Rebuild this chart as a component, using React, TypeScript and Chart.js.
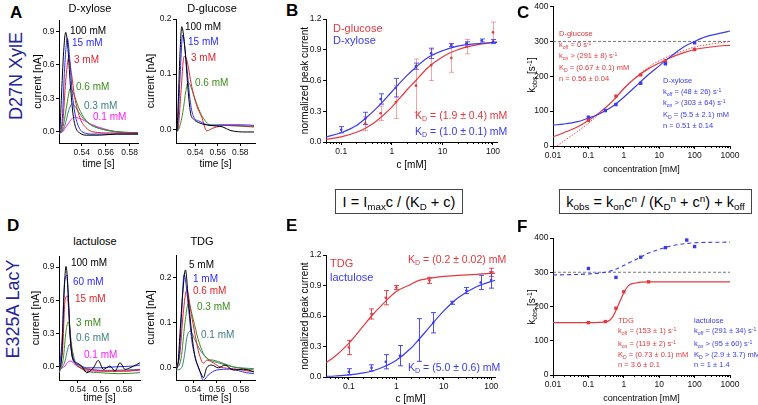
import React, { useEffect, useRef } from "react";
import { Chart, registerables } from "chart.js";
Chart.register(...registerables);

const FONT = "'Liberation Sans', Arial, Helvetica, sans-serif";
Chart.defaults.font.family = FONT;

const BLACK = "#000000";
const BLUE = "#2b2bff";
const RED = "#e3242b";
const GREEN = "#3d8c1c";
const TEAL = "#3f7e80";
const MAGENTA = "#ff1cff";
const FIT_RED = "#e3383d";
const FIT_BLUE = "#3a3af2";
const NAVY = "#24249a";

type Pair = [number, number];

// ---------- A: D27N XylE, D-xylose current traces (time [s], current [nA])
const xyl100: Pair[] = [[0.521, -0.01], [0.5218, 0.02], [0.5229, 0.28], [0.5249, 0.72], [0.5266, 0.89], [0.5282, 0.78], [0.5305, 0.42], [0.5327, 0.16], [0.5349, 0.04], [0.5383, -0.01], [0.5438, -0.03], [0.555, -0.03], [0.5689, -0.02], [0.587, -0.02]];
const xyl15: Pair[] = [[0.521, -0.01], [0.5221, 0.0], [0.5238, 0.12], [0.5257, 0.57], [0.528, 0.835], [0.5299, 0.66], [0.5321, 0.34], [0.5344, 0.16], [0.5372, 0.05], [0.5411, -0.005], [0.5494, -0.02], [0.587, -0.02]];
const xyl3: Pair[] = [[0.521, -0.01], [0.5225, 0.0], [0.5243, 0.1], [0.5266, 0.45], [0.5291, 0.66], [0.5313, 0.53], [0.5341, 0.31], [0.5383, 0.13], [0.5433, 0.04], [0.5494, 0.0], [0.5633, -0.01], [0.587, -0.01]];
const xyl06: Pair[] = [[0.521, -0.01], [0.5232, 0.0], [0.5249, 0.07], [0.5277, 0.25], [0.5305, 0.39], [0.5333, 0.34], [0.5369, 0.23], [0.5411, 0.14], [0.5466, 0.07], [0.555, 0.03], [0.5689, 0.0], [0.587, -0.01]];
const xyl03: Pair[] = [[0.521, -0.01], [0.5235, 0.0], [0.5257, 0.05], [0.5291, 0.19], [0.5319, 0.25], [0.5349, 0.22], [0.5397, 0.14], [0.5452, 0.08], [0.5522, 0.04], [0.5633, 0.01], [0.587, -0.01]];
const xyl01: Pair[] = [[0.521, -0.01], [0.524, 0.0], [0.5266, 0.04], [0.5305, 0.1], [0.5333, 0.13], [0.5383, 0.12], [0.5438, 0.09], [0.5494, 0.06], [0.5578, 0.03], [0.5689, 0.0], [0.587, -0.01]];

// ---------- A: D-glucose traces
const glc100: Pair[] = [[0.523, -0.005], [0.5239, 0.0], [0.5252, 0.06], [0.5262, 0.12], [0.5281, 0.186], [0.531, 0.144], [0.5339, 0.066], [0.536, 0.028], [0.5383, 0.019], [0.5443, 0.011], [0.5531, 0.007], [0.5646, 0.004], [0.5708, -0.002], [0.5856, -0.005], [0.5921, -0.005]];
const glc15: Pair[] = [[0.523, -0.005], [0.5243, 0.0], [0.5265, 0.09], [0.5289, 0.171], [0.5325, 0.114], [0.5354, 0.054], [0.5381, 0.025], [0.5443, 0.014], [0.5531, 0.007], [0.562, 0.008], [0.5797, 0.008], [0.5921, 0.007]];
const glc3: Pair[] = [[0.523, -0.005], [0.5248, 0.0], [0.5275, 0.07], [0.5301, 0.132], [0.5325, 0.126], [0.5369, 0.078], [0.5413, 0.043], [0.5458, 0.022], [0.5502, -0.003], [0.5558, 0.002], [0.5679, 0.007], [0.5921, 0.005]];
const glc06: Pair[] = [[0.523, -0.005], [0.5255, 0.0], [0.529, 0.03], [0.5318, 0.07], [0.5336, 0.085], [0.5354, 0.081], [0.5398, 0.055], [0.5443, 0.031], [0.5487, 0.016], [0.5531, 0.008], [0.5646, 0.007], [0.5921, 0.004]];

// ---------- D: E325A LacY, lactulose traces
const lac100: Pair[] = [[0.5238, -0.024], [0.5258, 0.08], [0.5279, 0.65], [0.5296, 0.906], [0.5313, 0.71], [0.5331, 0.29], [0.5354, 0.08], [0.5389, 0.036], [0.5432, 0.006], [0.5476, -0.054], [0.5534, -0.01], [0.5577, 0.057], [0.5621, -0.024], [0.5679, 0.006], [0.5722, -0.04], [0.5766, 0.036], [0.581, -0.024], [0.5853, -0.01], [0.5911, 0.02], [0.594, 0.036]];
const lac60: Pair[] = [[0.5238, -0.04], [0.5264, 0.29], [0.5281, 0.74], [0.5302, 0.825], [0.532, 0.53], [0.5337, 0.2], [0.536, 0.05], [0.5403, 0.02], [0.5476, -0.01], [0.5592, -0.01], [0.5737, 0.0], [0.5881, 0.006], [0.594, 0.015]];
const lac15: Pair[] = [[0.5238, -0.04], [0.5267, 0.17], [0.5287, 0.59], [0.5307, 0.64], [0.5325, 0.41], [0.5345, 0.14], [0.5374, 0.036], [0.5432, -0.01], [0.5505, -0.024], [0.565, -0.04], [0.5824, -0.04], [0.594, -0.024]];
const lac3: Pair[] = [[0.5238, -0.054], [0.5273, 0.08], [0.5296, 0.32], [0.5316, 0.405], [0.5337, 0.26], [0.536, 0.08], [0.5403, 0.006], [0.5476, -0.04], [0.5592, -0.054], [0.5766, -0.063], [0.594, -0.054]];
const lac06: Pair[] = [[0.5238, -0.04], [0.5287, 0.05], [0.531, 0.156], [0.5325, 0.2], [0.5348, 0.156], [0.5374, 0.05], [0.5418, 0.006], [0.5505, -0.024], [0.5679, -0.033], [0.594, -0.024]];
const lac01: Pair[] = [[0.5238, -0.024], [0.5287, 0.006], [0.5316, 0.045], [0.5339, 0.05], [0.5374, 0.02], [0.5418, -0.01], [0.5534, -0.04], [0.5707, -0.04], [0.594, -0.033]];

// ---------- D: TDG traces
const tdg5: Pair[] = [[0.5258, -0.005], [0.5275, 0.01], [0.5291, 0.076], [0.5314, 0.165], [0.5337, 0.217], [0.5361, 0.151], [0.5389, 0.077], [0.5416, 0.025], [0.5444, 0.002], [0.5472, -0.016], [0.5486, -0.022], [0.5514, 0.0], [0.5556, 0.006], [0.5611, 0.0], [0.5667, 0.006], [0.5736, -0.005], [0.582, -0.003], [0.5908, -0.009]];
const tdg1: Pair[] = [[0.5258, 0.0], [0.5283, 0.02], [0.5305, 0.12], [0.5325, 0.207], [0.5361, 0.137], [0.5389, 0.062], [0.5425, 0.017], [0.5458, -0.009], [0.5486, -0.028], [0.5527, -0.016], [0.5597, -0.005], [0.5708, -0.003], [0.5848, -0.011], [0.5908, -0.013]];
const tdg06: Pair[] = [[0.5258, 0.0], [0.529, 0.03], [0.5318, 0.12], [0.5347, 0.172], [0.5389, 0.114], [0.5431, 0.054], [0.5458, 0.025], [0.5486, 0.01], [0.5514, 0.017], [0.5556, 0.013], [0.5625, 0.002], [0.5736, -0.002], [0.5908, -0.009]];
const tdg03: Pair[] = [[0.5258, -0.003], [0.53, 0.02], [0.5333, 0.1], [0.5361, 0.143], [0.5402, 0.107], [0.5444, 0.062], [0.5486, 0.032], [0.5527, 0.019], [0.5569, 0.017], [0.5652, 0.01], [0.5736, 0.002], [0.5908, -0.005]];
const tdg01: Pair[] = [[0.5258, -0.005], [0.5305, 0.0], [0.533, 0.03], [0.5347, 0.065], [0.5375, 0.081], [0.5416, 0.062], [0.5458, 0.04], [0.55, 0.025], [0.5541, 0.017], [0.5625, 0.01], [0.5736, 0.002], [0.5908, -0.002]];

// ---------- B: normalized peak current (D27N XylE)
const xylB_c = [0.1, 0.3, 0.6, 1.2, 3, 6, 15, 30, 60, 100];
const xylB_v = [0.12, 0.23, 0.42, 0.53, 0.74, 0.865, 0.946, 0.963, 0.99, 0.98];
const xylB_e = [0.03, 0.06, 0.05, 0.09, 0.03, 0.05, 0.015, 0.015, 0.015, 0.02];
const glcB_c = [0.3, 0.6, 1.2, 3, 6, 15, 30, 100];
const glcB_v = [0.18, 0.28, 0.39, 0.55, 0.75, 0.82, 0.93, 1.07];
const glcB_e = [0.07, 0.07, 0.16, 0.26, 0.15, 0.14, 0.07, 0.1];
const fitB_c = [0.05, 0.1, 0.2, 0.3, 0.5, 1, 2, 3, 5, 10, 20, 50, 100, 120];
const xylFitB = [0.05, 0.09, 0.16, 0.23, 0.33, 0.49, 0.65, 0.73, 0.82, 0.89, 0.935, 0.96, 0.97, 0.972];
const glcFitB = [0.026, 0.05, 0.095, 0.135, 0.205, 0.34, 0.51, 0.6, 0.72, 0.83, 0.9, 0.95, 0.97, 0.975];

// ---------- C: k_obs (D27N XylE)
const glcC_c = [0.1, 0.6, 3, 15, 100];
const glcC_v = [74, 143, 204, 244, 277];
const xylC_c = [0.1, 0.3, 0.6, 3, 15, 100];
const xylC_v = [83, 102, 119, 180, 236, 296];
const fitC_c = [0.01, 0.02, 0.05, 0.1, 0.2, 0.5, 1, 2, 5, 10, 20, 50, 100, 200, 500, 1000];
const glcFitC = [26, 38, 55, 73, 95, 130, 165, 193, 222, 238, 253, 268, 277, 282, 287, 289];
const xylFitC = [60, 63, 70, 80, 92, 115, 140, 168, 205, 230, 255, 285, 300, 313, 323, 330];
const glcFit0C_c = [0.013, 0.02, 0.05, 0.1, 0.2, 0.5, 1, 2, 5, 10, 20, 50, 100, 200, 500, 1000];
const glcFit0C = [0, 14, 42, 65, 92, 130, 163, 194, 226, 245, 259, 274, 284, 290, 296, 300];
const refLine_c = [0.01, 1000];
const refLine_v = [300, 300];

// ---------- E: normalized peak current (E325A LacY)
const tdgE_c = [0.1, 0.3, 0.6, 1, 5, 100];
const tdgE_v = [0.29, 0.62, 0.78, 0.88, 0.95, 1.03];
const tdgE_e = [0.07, 0.05, 0.07, 0.02, 0.03, 0.04];
const lacE_c = [0.1, 0.3, 0.6, 1.2, 3, 6, 15, 30, 60, 100];
const lacE_v = [0.052, 0.09, 0.15, 0.21, 0.364, 0.534, 0.73, 0.85, 0.93, 0.954];
const lacE_e = [0.03, 0.03, 0.07, 0.1, 0.21, 0.1, 0.015, 0.03, 0.07, 0.08];
const fitE_c = [0.033, 0.05, 0.1, 0.2, 0.3, 0.5, 1, 2, 3, 5, 10, 20, 50, 100, 120];
const tdgFitE = [0.14, 0.2, 0.33, 0.5, 0.6, 0.71, 0.84, 0.91, 0.95, 0.97, 0.99, 1.0, 1.01, 1.02, 1.02];
const lacFitE = [0.006, 0.01, 0.02, 0.04, 0.057, 0.093, 0.165, 0.28, 0.37, 0.49, 0.65, 0.78, 0.89, 0.94, 0.95];

// ---------- F: k_obs (E325A LacY)
const tdgF_c = [0.1, 0.3, 0.6, 1, 5];
const tdgF_v = [153, 156, 195, 243, 272];
const lacF_c = [0.1, 0.6, 3, 15, 60, 100];
const lacF_v = [311, 285, 344, 372, 394, 375];
const tdgFitF_c = [0.01, 0.1, 0.2, 0.3, 0.4, 0.5, 0.6, 0.7, 0.8, 1, 1.2, 1.5, 2, 3, 5, 1000];
const tdgFitF = [153, 153, 153.5, 155, 160, 172, 188, 204, 218, 240, 254, 264, 268, 271, 272, 272];
const lacFitF_c = [0.01, 0.1, 0.3, 0.5, 1, 2, 3, 5, 10, 15, 20, 50, 100, 1000];
const lacFitF = [292, 295, 300, 306, 320, 335, 344, 356, 367, 372, 376, 383, 386, 388];

// ---------- tick labels
const timeTicks = [0.54, 0.56, 0.58];
const bigCurrentTicks = [0, 0.3, 0.6, 0.9];
const smallCurrentTicks = [0, 0.1, 0.2];
const normTicks = [0, 0.3, 0.6, 0.9, 1.2];
const concTicksBE = [0.1, 1, 10, 100];
const concTicksCF = [0.01, 0.1, 1, 10, 100, 1000];
const kobsTicks = [0, 100, 200, 300, 400];

function logMinors(lo: number, hi: number): number[] {
  const out: number[] = [];
  for (let e = -3; e <= 3; e++) {
    for (let m = 2; m <= 9; m++) {
      const v = m * Math.pow(10, e);
      if (v >= lo && v <= hi) out.push(v);
    }
  }
  return out;
}

const zip = (xs: number[], ys: number[]): Pair[] => xs.map((x, i) => [x, ys[i]]);

const line = (pts: Pair[], color: string, width = 1, dash: number[] = []) => ({
  data: pts.map(([x, y]) => ({ x, y })),
  showLine: true,
  borderColor: color,
  backgroundColor: color,
  borderWidth: width,
  borderDash: dash,
  pointRadius: 0,
  fill: false,
  cubicInterpolationMode: "monotone",
});

const pts = (p: Pair[], color: string, style: string, radius: number, errs?: number[], errColor?: string) => ({
  data: p.map(([x, y]) => ({ x, y })),
  showLine: false,
  pointStyle: style,
  pointRadius: radius,
  pointBackgroundColor: color,
  pointBorderColor: color,
  pointBorderWidth: 0,
  errorBars: errs,
  errorColor: errColor || color,
});

interface Axis {
  type: "linear" | "logarithmic";
  min: number;
  max: number;
  ticks: number[];
  fmt: (v: number) => string;
  minors?: number[];
  title?: string;
  titleSize?: number;
}
interface PanelSpec {
  key: string;
  L: number; T: number; R: number; B: number;
  yw: number; xh: number; pt: number; pr: number;
  x: Axis; y: Axis;
  datasets: any[];
}

const fmt1 = (v: number) => v.toFixed(1);
const fmt2 = (v: number) => v.toFixed(2);
const fmtN = (v: number) => String(v);

function tracePanel(key: string, L: number, T: number, R: number, B: number, yw: number, xh: number,
  xmin: number, xmax: number, ymin: number, ymax: number, yticks: number[], series: [Pair[], string][]): PanelSpec {
  return {
    key, L, T, R, B, yw, xh, pt: 8, pr: 6,
    x: { type: "linear", min: xmin, max: xmax, ticks: timeTicks, fmt: fmt2, title: "time [s]", titleSize: 10 },
    y: { type: "linear", min: ymin, max: ymax, ticks: yticks, fmt: fmt1, title: "current [nA]", titleSize: 10.5 },
    datasets: series.map(([p, c]) => line(p, c, 1)),
  };
}

const PANELS: PanelSpec[] = [
  tracePanel("A1", 59, 20, 138, 143, 27, 27, 0.521, 0.587, -0.1, 1.0, bigCurrentTicks,
    [[xyl100, BLACK], [xyl15, BLUE], [xyl3, RED], [xyl06, GREEN], [xyl03, TEAL], [xyl01, MAGENTA]]),
  tracePanel("A2", 176, 19, 255, 143, 31, 27, 0.523, 0.593, -0.025, 0.2, smallCurrentTicks,
    [[glc100, BLACK], [glc15, BLUE], [glc3, RED], [glc06, GREEN]]),
  tracePanel("D1", 59, 256, 140, 380, 29, 24, 0.5235, 0.594, -0.12, 1.0, bigCurrentTicks,
    [[lac100, BLACK], [lac60, BLUE], [lac15, RED], [lac3, GREEN], [lac06, TEAL], [lac01, MAGENTA]]),
  tracePanel("D2", 176, 255, 255, 380, 31, 24, 0.5258, 0.5917, -0.027, 0.25, smallCurrentTicks,
    [[tdg5, BLACK], [tdg1, BLUE], [tdg06, RED], [tdg03, GREEN], [tdg01, TEAL]]),
  {
    key: "B", L: 326, T: 19, R: 497, B: 142, yw: 27, xh: 29, pt: 8, pr: 12,
    x: { type: "logarithmic", min: 0.05, max: 120, ticks: concTicksBE, fmt: fmtN, minors: logMinors(0.05, 120), title: "c [mM]", titleSize: 10 },
    y: { type: "linear", min: 0, max: 1.2, ticks: normTicks, fmt: fmt1, title: "normalized peak current", titleSize: 10 },
    datasets: [
      pts(zip(xylB_c, xylB_v), FIT_BLUE, "circle", 1.3, xylB_e, "rgba(58,58,242,0.85)"),
      pts(zip(glcB_c, glcB_v), FIT_RED, "circle", 1.3, glcB_e, "rgba(227,56,61,0.45)"),
      line(zip(fitB_c, xylFitB), FIT_BLUE, 1.2),
      line(zip(fitB_c, glcFitB), FIT_RED, 1.2),
    ],
  },
  {
    key: "C", L: 553, T: 5, R: 730, B: 146, yw: 26, xh: 29, pt: 5, pr: 14,
    x: { type: "logarithmic", min: 0.01, max: 1000, ticks: concTicksCF, fmt: fmtN, minors: logMinors(0.01, 1000), title: "concentration [mM]", titleSize: 9 },
    y: { type: "linear", min: 0, max: 400, ticks: kobsTicks, fmt: fmtN },
    datasets: [
      pts(zip(xylC_c, xylC_v), FIT_BLUE, "rect", 2.4),
      pts(zip(glcC_c, glcC_v), FIT_RED, "rect", 2.4),
      line(zip(xylFitC_c_guard(), xylFitC), FIT_BLUE, 1.2),
      line(zip(fitC_c, glcFitC), FIT_RED, 1.2),
      line(zip(glcFit0C_c, glcFit0C), FIT_RED, 0.9, [1.5, 1.5]),
      line(zip(refLine_c, refLine_v), "#555555", 0.8, [3, 2]),
    ],
  },
  {
    key: "E", L: 326, T: 255, R: 495, B: 377, yw: 27, xh: 28, pt: 8, pr: 12,
    x: { type: "logarithmic", min: 0.033, max: 120, ticks: concTicksBE, fmt: fmtN, minors: logMinors(0.033, 120), title: "c [mM]", titleSize: 10 },
    y: { type: "linear", min: 0, max: 1.2, ticks: normTicks, fmt: fmt1, title: "normalized peak current", titleSize: 10 },
    datasets: [
      pts(zip(tdgE_c, tdgE_v), FIT_RED, "circle", 1.3, tdgE_e, "rgba(227,56,61,0.9)"),
      pts(zip(lacE_c, lacE_v), FIT_BLUE, "circle", 1.3, lacE_e, "rgba(58,58,242,0.9)"),
      line(zip(fitE_c, tdgFitE), FIT_RED, 1.2),
      line(zip(fitE_c, lacFitE), FIT_BLUE, 1.2),
    ],
  },
  {
    key: "F", L: 553, T: 238, R: 730, B: 375, yw: 26, xh: 29, pt: 8, pr: 14,
    x: { type: "logarithmic", min: 0.01, max: 1000, ticks: concTicksCF, fmt: fmtN, minors: logMinors(0.01, 1000), title: "concentration [mM]", titleSize: 9 },
    y: { type: "linear", min: 0, max: 400, ticks: kobsTicks, fmt: fmtN },
    datasets: [
      pts(zip(lacF_c, lacF_v), FIT_BLUE, "rect", 2.4),
      pts(zip(tdgF_c, tdgF_v), FIT_RED, "rect", 2.4),
      line(zip(lacFitF_c, lacFitF), FIT_BLUE, 1.1, [4, 3]),
      line(zip(tdgFitF_c, tdgFitF), FIT_RED, 1.2),
      line(zip(refLine_c, refLine_v), "#555555", 0.8, [3, 2]),
    ],
  },
];

function xylFitC_c_guard() {
  return fitC_c;
}

function geom(p: PanelSpec) {
  return {
    left: p.L - p.yw,
    top: p.T - p.pt,
    w: p.R - p.L + p.yw + p.pr,
    h: p.B - p.T + p.pt + p.xh,
  };
}

function scaleOptions(a: Axis, isX: boolean, size: number) {
  return {
    type: a.type,
    min: a.min,
    max: a.max,
    position: isX ? "bottom" : "left",
    afterBuildTicks: (s: any) => {
      s.ticks = a.ticks.map((v) => ({ value: v }));
    },
    afterFit: (s: any) => {
      if (isX) s.height = size;
      else s.width = size;
    },
    ticks: {
      autoSkip: false,
      maxRotation: 0,
      minRotation: 0,
      padding: 1.5,
      color: "#111",
      font: { family: FONT, size: 8.5 },
      callback: (v: any) => a.fmt(Number(v)),
    },
    grid: { display: true, drawOnChartArea: false, drawTicks: true, tickLength: 3, color: "#000", tickColor: "#000", lineWidth: 1 },
    border: { display: true, color: "#000", width: 1 },
    title: a.title
      ? { display: true, text: a.title, color: "#000", font: { family: FONT, size: a.titleSize ?? 10 }, padding: 0 }
      : { display: false },
  };
}

function makeExtras(xMinor?: number[], yMinor?: number[]) {
  return {
    id: "extras",
    beforeDatasetsDraw(chart: any) {
      const ctx = chart.ctx;
      const ys = chart.scales.y;
      chart.data.datasets.forEach((ds: any, i: number) => {
        if (!ds.errorBars) return;
        const meta = chart.getDatasetMeta(i);
        ctx.save();
        ctx.strokeStyle = ds.errorColor;
        ctx.lineWidth = 1;
        ctx.beginPath();
        meta.data.forEach((el: any, j: number) => {
          const d = ds.data[j];
          const e = ds.errorBars[j];
          const x = Math.round(el.x) + 0.5;
          const y1 = ys.getPixelForValue(d.y + e);
          const y2 = ys.getPixelForValue(d.y - e);
          ctx.moveTo(x, y1);
          ctx.lineTo(x, y2);
          ctx.moveTo(x - 2.5, y1);
          ctx.lineTo(x + 2.5, y1);
          ctx.moveTo(x - 2.5, y2);
          ctx.lineTo(x + 2.5, y2);
        });
        ctx.stroke();
        ctx.restore();
      });
    },
    afterDraw(chart: any) {
      const { ctx, chartArea, scales } = chart;
      ctx.save();
      ctx.strokeStyle = "#000";
      ctx.lineWidth = 1;
      ctx.beginPath();
      (xMinor || []).forEach((v) => {
        if (v < scales.x.min || v > scales.x.max) return;
        const px = Math.round(scales.x.getPixelForValue(v)) + 0.5;
        ctx.moveTo(px, chartArea.bottom);
        ctx.lineTo(px, chartArea.bottom + 2);
      });
      (yMinor || []).forEach((v) => {
        if (v < scales.y.min || v > scales.y.max) return;
        const py = Math.round(scales.y.getPixelForValue(v)) + 0.5;
        ctx.moveTo(chartArea.left, py);
        ctx.lineTo(chartArea.left - 2, py);
      });
      ctx.stroke();
      ctx.restore();
    },
  };
}

function buildConfig(p: PanelSpec): any {
  return {
    type: "scatter",
    data: { datasets: p.datasets },
    options: {
      responsive: false,
      animation: false,
      devicePixelRatio: 1,
      events: [],
      layout: { padding: { top: p.pt, right: p.pr, left: 0, bottom: 0 } },
      plugins: { legend: { display: false }, tooltip: { enabled: false }, title: { display: false } },
      scales: { x: scaleOptions(p.x, true, p.xh), y: scaleOptions(p.y, false, p.yw) },
    },
    plugins: [makeExtras(p.x.minors, p.y.minors)],
  };
}

const Sub = ({ children }: { children: React.ReactNode }) => (
  <span style={{ fontSize: "0.68em", position: "relative", top: "0.32em" }}>{children}</span>
);
const Sup = ({ children }: { children: React.ReactNode }) => (
  <span style={{ fontSize: "0.68em", position: "relative", top: "-0.45em" }}>{children}</span>
);

function Label(props: { x: number; y: number; size: number; color?: string; bold?: boolean; center?: boolean; rotate?: boolean; children: React.ReactNode }) {
  const { x, y, size, color = "#000", bold, center, rotate, children } = props;
  let transform = "translateY(-50%)";
  if (center) transform = "translate(-50%,-50%)";
  if (rotate) transform = "translate(-50%,-50%) rotate(-90deg)";
  return (
    <div
      style={{
        position: "absolute",
        left: x,
        top: y,
        fontSize: size,
        color,
        fontFamily: FONT,
        fontWeight: bold ? "bold" : "normal",
        lineHeight: 1,
        whiteSpace: "nowrap",
        transform,
      }}
    >
      {children}
    </div>
  );
}

const s1 = <><Sup>-1</Sup></>;

export default function App() {
  const refs = useRef<(HTMLCanvasElement | null)[]>([]);
  useEffect(() => {
    const charts = PANELS.map((p, i) => new Chart(refs.current[i] as HTMLCanvasElement, buildConfig(p)));
    return () => charts.forEach((c) => c.destroy());
  }, []);

  const TL = 10; // trace label font size
  const KF = 7.5; // kinetic label font size

  return (
    <div style={{ position: "absolute", left: 0, top: 0, width: 758, height: 405, background: "#fff", overflow: "hidden", fontFamily: FONT }}>
      {PANELS.map((p, i) => {
        const g = geom(p);
        return (
          <canvas
            key={p.key}
            ref={(el) => {
              refs.current[i] = el;
            }}
            width={g.w}
            height={g.h}
            style={{ position: "absolute", left: g.left, top: g.top, width: g.w, height: g.h }}
          />
        );
      })}

      {/* row labels */}
      <Label x={16} y={76} size={18} color={NAVY} rotate>D27N XylE</Label>
      <Label x={13} y={309} size={18} color={NAVY} rotate>E325A LacY</Label>

      {/* panel letters */}
      <Label x={10} y={12} size={17} bold>A</Label>
      <Label x={286} y={10} size={17} bold>B</Label>
      <Label x={517} y={12} size={17} bold>C</Label>
      <Label x={7} y={225} size={17} bold>D</Label>
      <Label x={286} y={225} size={17} bold>E</Label>
      <Label x={517} y={226} size={17} bold>F</Label>

      {/* trace titles */}
      <Label x={90} y={8} size={11} center>D-xylose</Label>
      <Label x={212} y={8} size={11} center>D-glucose</Label>
      <Label x={95} y={241} size={11} center>lactulose</Label>
      <Label x={202} y={241} size={11} center>TDG</Label>

      {/* A trace labels */}
      <Label x={70} y={31} size={TL} color={BLACK}>100 mM</Label>
      <Label x={72} y={43} size={TL} color={BLUE}>15 mM</Label>
      <Label x={74} y={60} size={TL} color={RED}>3 mM</Label>
      <Label x={76} y={87} size={TL} color={GREEN}>0.6 mM</Label>
      <Label x={84} y={106} size={TL} color={TEAL}>0.3 mM</Label>
      <Label x={93} y={117} size={TL} color={MAGENTA}>0.1 mM</Label>
      <Label x={185} y={27} size={TL} color={BLACK}>100 mM</Label>
      <Label x={188} y={42} size={TL} color={BLUE}>15 mM</Label>
      <Label x={191} y={58} size={TL} color={RED}>3 mM</Label>
      <Label x={195} y={83} size={TL} color={GREEN}>0.6 mM</Label>

      {/* D trace labels */}
      <Label x={71} y={263} size={TL} color={BLACK}>100 mM</Label>
      <Label x={73} y={282} size={TL} color={BLUE}>60 mM</Label>
      <Label x={75} y={299} size={TL} color={RED}>15 mM</Label>
      <Label x={76} y={323} size={TL} color={GREEN}>3 mM</Label>
      <Label x={76} y={338} size={TL} color={TEAL}>0.6 mM</Label>
      <Label x={84} y={355} size={TL} color={MAGENTA}>0.1 mM</Label>
      <Label x={189} y={265} size={TL} color={BLACK}>5 mM</Label>
      <Label x={193} y={279} size={TL} color={BLUE}>1 mM</Label>
      <Label x={193} y={291} size={TL} color={RED}>0.6 mM</Label>
      <Label x={197} y={307} size={TL} color={GREEN}>0.3 mM</Label>
      <Label x={201} y={335} size={TL} color={TEAL}>0.1 mM</Label>

      {/* B texts */}
      <Label x={333} y={28} size={11} color={FIT_RED}>D-glucose</Label>
      <Label x={333} y={40} size={11} color={FIT_BLUE}>D-xylose</Label>
      <Label x={415} y={116} size={10.5} color={FIT_RED}>K<Sub>D</Sub> = (1.9 ± 0.4) mM</Label>
      <Label x={415} y={132} size={10.5} color={FIT_BLUE}>K<Sub>D</Sub> = (1.0 ± 0.1) mM</Label>

      {/* C texts */}
      <Label x={532} y={75} size={10} rotate>k<Sub>obs</Sub> [s{s1}]</Label>
      <Label x={559} y={34} size={KF} color={FIT_RED}>D-glucose</Label>
      <Label x={559} y={45} size={KF} color={FIT_RED}>k<Sub>off</Sub> = 0 s{s1}</Label>
      <Label x={559} y={56} size={KF} color={FIT_RED}>k<Sub>on</Sub> &gt; (291 ± 8) s{s1}</Label>
      <Label x={559} y={68} size={KF} color={FIT_RED}>K<Sub>D</Sub> = (0.67 ± 0.1) mM</Label>
      <Label x={559} y={79} size={KF} color={FIT_RED}>n = 0.56 ± 0.04</Label>
      <Label x={663} y={81} size={KF} color={FIT_BLUE}>D-xylose</Label>
      <Label x={663} y={92} size={KF} color={FIT_BLUE}>k<Sub>off</Sub> = (48 ± 26) s{s1}</Label>
      <Label x={663} y={103} size={KF} color={FIT_BLUE}>k<Sub>on</Sub> &gt; (303 ± 64) s{s1}</Label>
      <Label x={663} y={115} size={KF} color={FIT_BLUE}>K<Sub>D</Sub> = (5.5 ± 2.1) mM</Label>
      <Label x={663} y={126} size={KF} color={FIT_BLUE}>n = 0.51 ± 0.14</Label>

      {/* equation boxes */}
      <div style={{ position: "absolute", left: 335, top: 189, width: 128, height: 25, border: "1px solid #444", boxSizing: "border-box", background: "#fff", display: "flex", alignItems: "center", justifyContent: "center", fontSize: 14.5, fontFamily: FONT, whiteSpace: "nowrap" }}>
        <span>I = I<Sub>max</Sub>c / (K<Sub>D</Sub> + c)</span>
      </div>
      <div style={{ position: "absolute", left: 559, top: 189, width: 193, height: 25, border: "1px solid #444", boxSizing: "border-box", background: "#fff", display: "flex", alignItems: "center", justifyContent: "center", fontSize: 14.5, fontFamily: FONT, whiteSpace: "nowrap" }}>
        <span>k<Sub>obs</Sub> = k<Sub>on</Sub>c<Sup>n</Sup> / (K<Sub>D</Sub><Sup>n</Sup> + c<Sup>n</Sup>) + k<Sub>off</Sub></span>
      </div>

      {/* E texts */}
      <Label x={330} y={263} size={11} color={FIT_RED}>TDG</Label>
      <Label x={330} y={277} size={11} color={FIT_BLUE}>lactulose</Label>
      <Label x={408} y={260} size={10.5} color={FIT_RED}>K<Sub>D</Sub> = (0.2 ± 0.02) mM</Label>
      <Label x={408} y={368} size={10.5} color={FIT_BLUE}>K<Sub>D</Sub> = (5.0 ± 0.6) mM</Label>

      {/* F texts */}
      <Label x={532} y={307} size={10} rotate>k<Sub>obs</Sub> [s{s1}]</Label>
      <Label x={618} y={321} size={KF} color={FIT_RED}>TDG</Label>
      <Label x={618} y={331} size={KF} color={FIT_RED}>k<Sub>off</Sub> = (153 ± 1) s{s1}</Label>
      <Label x={618} y={344} size={KF} color={FIT_RED}>k<Sub>on</Sub> = (119 ± 2) s{s1}</Label>
      <Label x={618} y={355} size={KF} color={FIT_RED}>K<Sub>D</Sub> = (0.73 ± 0.1) mM</Label>
      <Label x={618} y={365} size={KF} color={FIT_RED}>n = 3.6 ± 0.1</Label>
      <Label x={694} y={321} size={KF} color={FIT_BLUE}>lactulose</Label>
      <Label x={694} y={331} size={KF} color={FIT_BLUE}>k<Sub>off</Sub> = (291 ± 34) s{s1}</Label>
      <Label x={694} y={344} size={KF} color={FIT_BLUE}>k<Sub>on</Sub> &gt; (95 ± 60) s{s1}</Label>
      <Label x={694} y={355} size={KF} color={FIT_BLUE}>K<Sub>D</Sub> &gt; (2.9 ± 3.7) mM</Label>
      <Label x={694} y={365} size={KF} color={FIT_BLUE}>n = 1 ± 1.4</Label>
    </div>
  );
}
